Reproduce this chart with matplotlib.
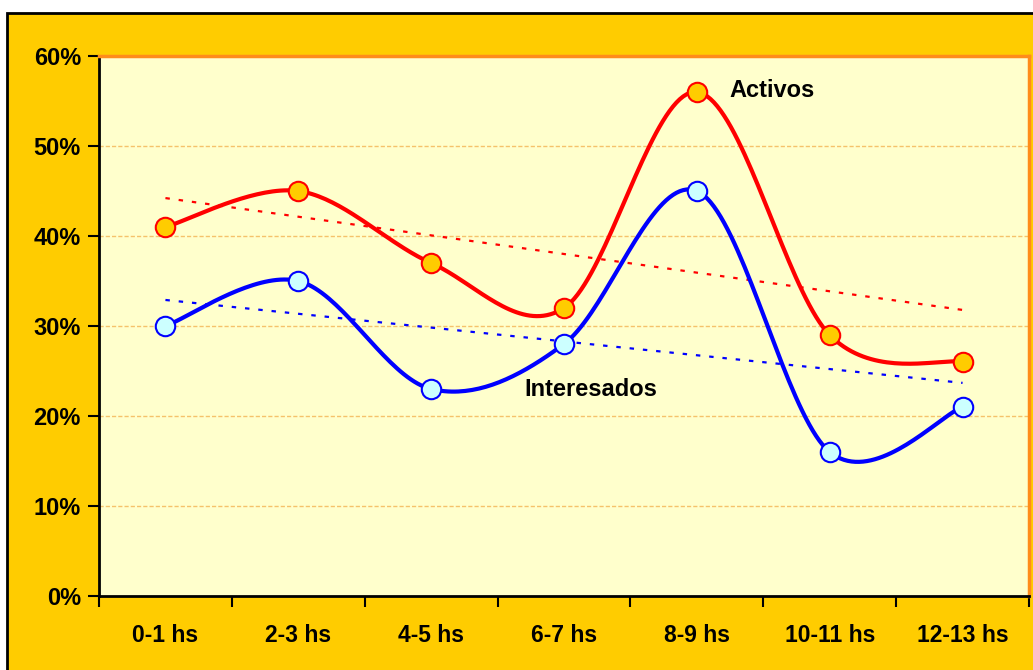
import numpy as np
import matplotlib
matplotlib.use("Agg")
import matplotlib.pyplot as plt
from matplotlib.patches import Rectangle

categories = ["0-1 hs", "2-3 hs", "4-5 hs", "6-7 hs", "8-9 hs", "10-11 hs", "12-13 hs"]
activos = [41, 45, 37, 32, 56, 29, 26]
interesados = [30, 35, 23, 28, 45, 16, 21]
y_ticks = [0, 10, 20, 30, 40, 50, 60]
y_labels = ["0%", "10%", "20%", "30%", "40%", "50%", "60%"]

plt.rcParams['font.family'] = ['Liberation Sans', 'DejaVu Sans']
plt.rcParams['font.weight'] = 'bold'


def smooth(xs, ys, n=40):
    P = np.column_stack([xs, ys]).astype(float)
    out = []
    for i in range(len(P) - 1):
        p0 = P[i - 1] if i > 0 else P[i]
        p1 = P[i]
        p2 = P[i + 1]
        p3 = P[i + 2] if i + 2 < len(P) else P[i + 1]
        c1 = p1 + (p2 - p0) / 6.0
        c2 = p2 - (p3 - p1) / 6.0
        t = np.linspace(0, 1, n)[:, None]
        seg = ((1 - t) ** 3) * p1 + 3 * ((1 - t) ** 2) * t * c1 + 3 * (1 - t) * t ** 2 * c2 + t ** 3 * p2
        out.append(seg if i == 0 else seg[1:])
    S = np.vstack(out)
    return S[:, 0], S[:, 1]


W, H = 1033, 670
fig = plt.figure(figsize=(W / 100, H / 100), dpi=100, facecolor="white")
bg = Rectangle((7 / W, -0.01), 1.02, (H - 13) / H + 0.01, transform=fig.transFigure,
               facecolor="#FFCC00", edgecolor="black", linewidth=2, zorder=-10)
fig.add_artist(bg)

ax = fig.add_axes([99 / W, 1 - 596 / H, (1029 - 99) / W, (596 - 56) / H], zorder=5)
ax.set_facecolor("#FFFFCC")
x = np.arange(len(categories))

ax.set_xlim(-0.5, len(categories) - 0.5)
ax.set_ylim(0, 60)

for yv in y_ticks[1:-1]:
    ax.axhline(yv, color="#F5C26B", linewidth=1, linestyle=(0, (3, 1.5)), zorder=1)

# trendlines
for ys, col in [(activos, "red"), (interesados, "blue")]:
    k, b = np.polyfit(x, ys, 1)
    ax.plot(x, k * x + b, color=col, linewidth=1.6, linestyle=(0, (2, 4)), zorder=2)

sx, sy = smooth(x, activos)
ax.plot(sx, sy, color="red", linewidth=3, zorder=3, solid_capstyle="round")
ax.plot(x, activos, linestyle="none", marker="o", markersize=14, markerfacecolor="#FFCC00",
        markeredgecolor="red", markeredgewidth=1.5, zorder=4)

sx, sy = smooth(x, interesados)
ax.plot(sx, sy, color="blue", linewidth=3, zorder=3, solid_capstyle="round")
ax.plot(x, interesados, linestyle="none", marker="o", markersize=14, markerfacecolor="#CCFFFF",
        markeredgecolor="blue", markeredgewidth=1.5, zorder=4)

ax.text(4.244, 56.2, "Activos", fontsize=17, fontweight="bold", va="center", ha="left", zorder=5)
ax.text(2.699, 22.9, "Interesados", fontsize=17, fontweight="bold", va="center", ha="left", zorder=5)

ax.set_yticks(y_ticks)
ax.set_yticklabels(y_labels, fontsize=17, fontweight="bold")
ax.tick_params(axis="y", direction="out", length=8, width=1.5, pad=5)

ax.set_xticks(x)
ax.set_xticklabels(categories, fontsize=16.5, fontweight="bold")
ax.set_xticks(np.arange(-0.5, len(categories), 1), minor=True)
ax.tick_params(axis="x", which="major", length=0, pad=20)
ax.tick_params(axis="x", which="minor", direction="out", length=8, width=1.5)

for s in ["left", "bottom"]:
    ax.spines[s].set_color("black")
    ax.spines[s].set_linewidth(2)
for s in ["top", "right"]:
    ax.spines[s].set_color("#FF8C1A")
    ax.spines[s].set_linewidth(2.5)

fig.savefig("out.png", dpi=100, facecolor=fig.get_facecolor())
